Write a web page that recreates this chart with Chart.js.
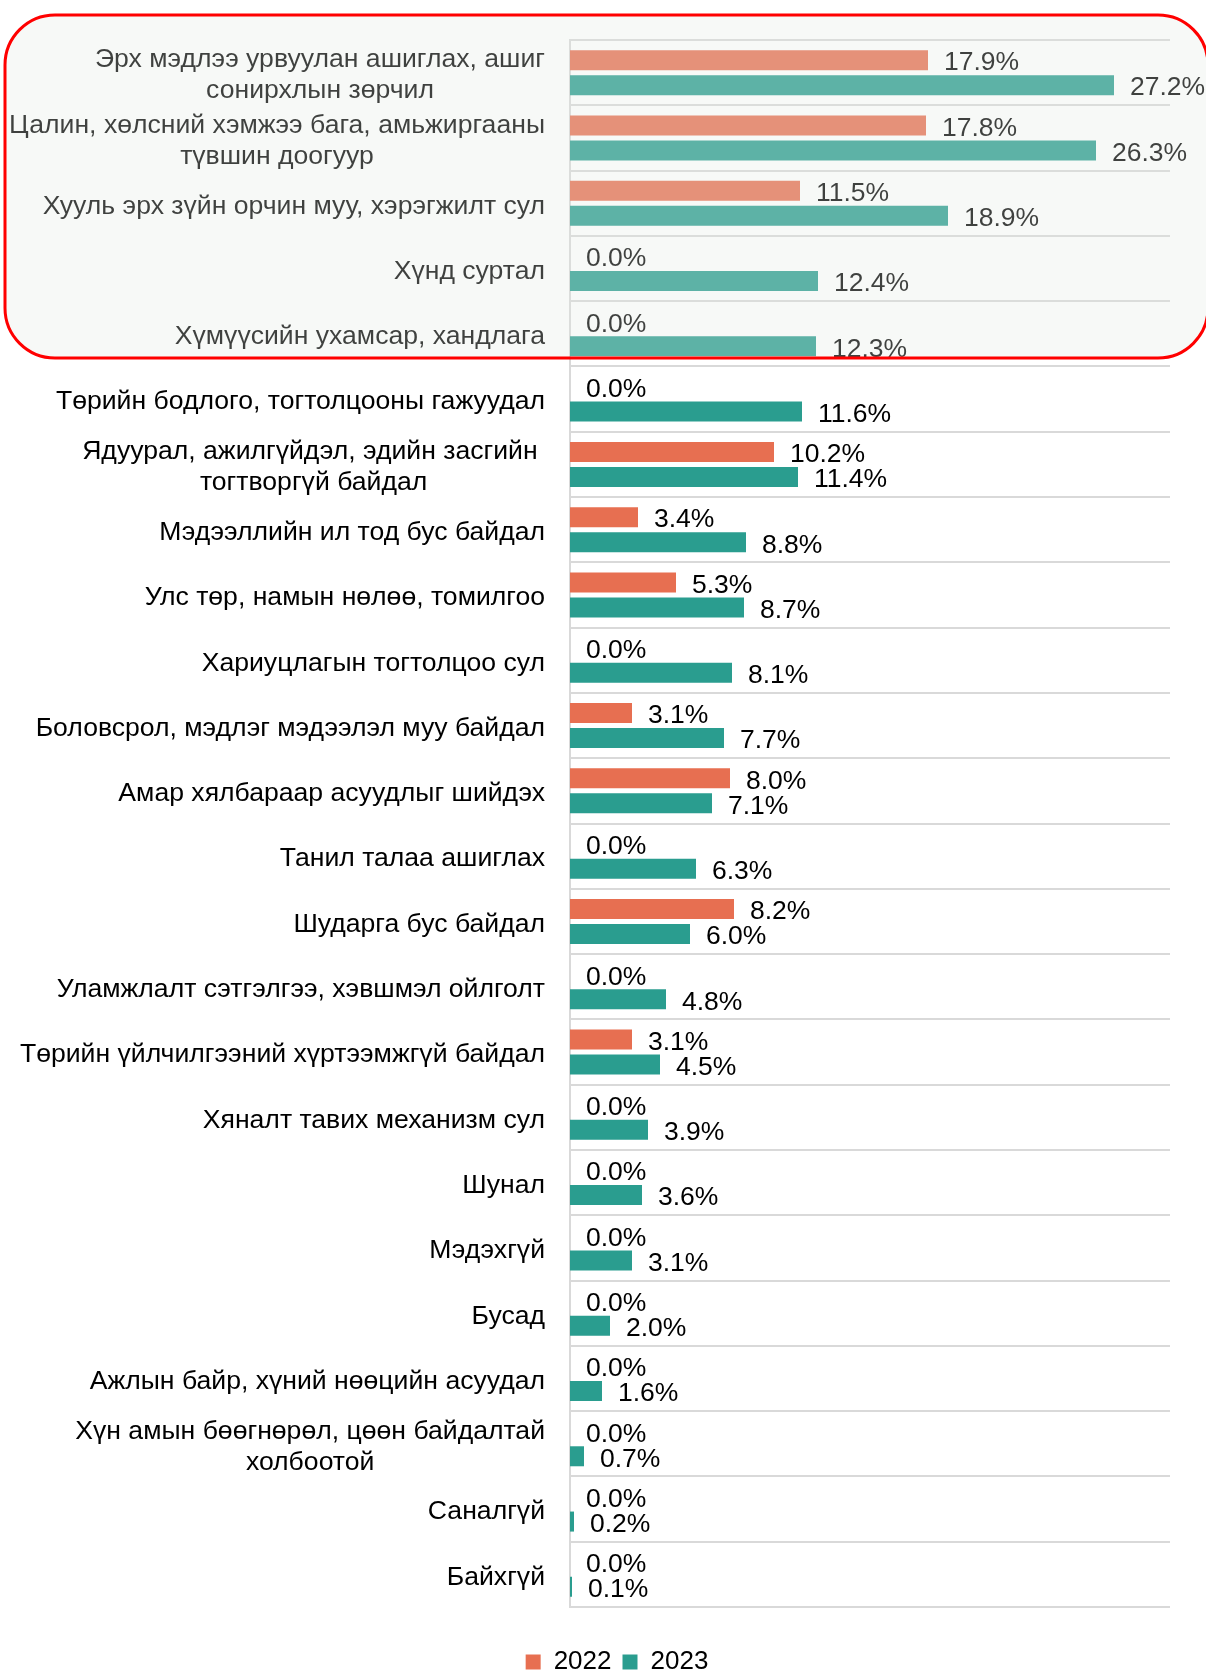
<!DOCTYPE html>
<html>
<head>
<meta charset="utf-8">
<script src="https://cdn.jsdelivr.net/npm/chart.js@4/dist/chart.umd.min.js"></script>
<style>
html,body{margin:0;padding:0;background:#fff;}
canvas{display:block;}
</style>
</head>
<body>
<canvas id="c" width="1206" height="1673" style="width:1206px;height:1673px"></canvas>
<script>
const categories = [
  ["Эрх мэдлээ урвуулан ашиглах, ашиг", "сонирхлын зөрчил"],
  ["Цалин, хөлсний хэмжээ бага, амьжиргааны", "түвшин доогуур"],
  ["Хууль эрх зүйн орчин муу, хэрэгжилт сул"],
  ["Хүнд суртал"],
  ["Хүмүүсийн ухамсар, хандлага"],
  ["Төрийн бодлого, тогтолцооны гажуудал"],
  ["Ядуурал, ажилгүйдэл, эдийн засгийн ", "тогтворгүй байдал"],
  ["Мэдээллийн ил тод бус байдал"],
  ["Улс төр, намын нөлөө, томилгоо"],
  ["Хариуцлагын тогтолцоо сул"],
  ["Боловсрол, мэдлэг мэдээлэл муу байдал"],
  ["Амар хялбараар асуудлыг шийдэх"],
  ["Танил талаа ашиглах"],
  ["Шударга бус байдал"],
  ["Уламжлалт сэтгэлгээ, хэвшмэл ойлголт"],
  ["Төрийн үйлчилгээний хүртээмжгүй байдал"],
  ["Хяналт тавих механизм сул"],
  ["Шунал"],
  ["Мэдэхгүй"],
  ["Бусад"],
  ["Ажлын байр, хүний нөөцийн асуудал"],
  ["Хүн амын бөөгнөрөл, цөөн байдалтай", "холбоотой"],
  ["Саналгүй"],
  ["Байхгүй"]
];
const values2022 = [17.9, 17.8, 11.5, 0.0, 0.0, 0.0, 10.2, 3.4, 5.3, 0.0, 3.1, 8.0, 0.0, 8.2, 0.0, 3.1, 0.0, 0.0, 0.0, 0.0, 0.0, 0.0, 0.0, 0.0];
const values2023 = [27.2, 26.3, 18.9, 12.4, 12.3, 11.6, 11.4, 8.8, 8.7, 8.1, 7.7, 7.1, 6.3, 6.0, 4.8, 4.5, 3.9, 3.6, 3.1, 2.0, 1.6, 0.7, 0.2, 0.1];
const seriesNames = ["2022", "2023"];

const FONT = "'Liberation Sans', Arial, sans-serif";

const labelPlugin = {
  id: 'valueLabels',
  afterDatasetsDraw(chart) {
    const ctx = chart.ctx;
    ctx.save();
    ctx.font = "26.5px " + FONT;
    ctx.fillStyle = "#000";
    ctx.textAlign = "left";
    ctx.textBaseline = "middle";
    chart.data.datasets.forEach((ds, di) => {
      const meta = chart.getDatasetMeta(di);
      meta.data.forEach((el, i) => {
        ctx.fillText(ds.data[i].toFixed(1) + "%", el.x + 16, el.y + 3);
      });
    });
    ctx.restore();
  },
  afterLayout(chart) {
    const lg = chart.legend;
    if (lg) { lg.left += 32; lg.right += 32; }
  },
  afterDraw(chart) {
    const ctx = chart.ctx;
    const y = chart.scales.y;
    const right = chart.chartArea.left - 25;
    ctx.save();
    ctx.font = "26.6px " + FONT;
    ctx.fillStyle = "#000";
    ctx.textBaseline = "middle";
    ctx.textAlign = "center";
    const lh = 31;
    categories.forEach((lines, i) => {
      const cy = y.getPixelForValue(i);
      let maxW = 0;
      lines.forEach(l => { maxW = Math.max(maxW, ctx.measureText(l).width); });
      const cx = right - maxW / 2;
      const y0 = cy - (lines.length - 1) * lh / 2;
      lines.forEach((l, k) => ctx.fillText(l, cx, y0 + k * lh + 3));
    });
    // highlight box
    const top = y.getPixelForValue(0) - (y.getPixelForValue(1) - y.getPixelForValue(0)) / 2;
    const bx = 5, by = top - 25, bw = 1203, bh = 358 - by;
    ctx.beginPath();
    ctx.roundRect(bx, by, bw, bh, 50);
    ctx.fillStyle = "rgba(226,232,226,0.28)";
    ctx.fill();
    ctx.lineWidth = 3;
    ctx.strokeStyle = "#FF0000";
    ctx.stroke();
    ctx.restore();
  }
};

new Chart(document.getElementById('c'), {
  type: 'bar',
  data: {
    labels: categories,
    datasets: [
      { label: seriesNames[0], data: values2022, backgroundColor: '#E76F51', borderWidth: 0, barPercentage: 0.8, categoryPercentage: 0.766 },
      { label: seriesNames[1], data: values2023, backgroundColor: '#2A9D8F', borderWidth: 0, barPercentage: 0.8, categoryPercentage: 0.766 }
    ]
  },
  options: {
    indexAxis: 'y',
    responsive: false,
    animation: false,
    devicePixelRatio: 1,
    layout: { padding: { left: 0, right: 36, top: 40, bottom: -12 } },
    scales: {
      x: {
        min: 0, max: 30,
        grid: { display: false },
        border: { display: false },
        ticks: { display: false },
        afterFit(s) { s.height = 31; }
      },
      y: {
        grid: { color: '#D9D9D9', lineWidth: 2, drawTicks: false, offset: true },
        border: { color: '#D9D9D9', width: 2 },
        ticks: { display: false },
        afterFit(s) { s.width = 570; }
      }
    },
    plugins: {
      tooltip: { enabled: false },
      legend: {
        position: 'bottom',
        labels: {
          boxWidth: 15, boxHeight: 15, padding: 11,
          color: '#000',
          font: { size: 26, family: FONT }
        }
      }
    }
  },
  plugins: [labelPlugin]
});
</script>
</body>
</html>
